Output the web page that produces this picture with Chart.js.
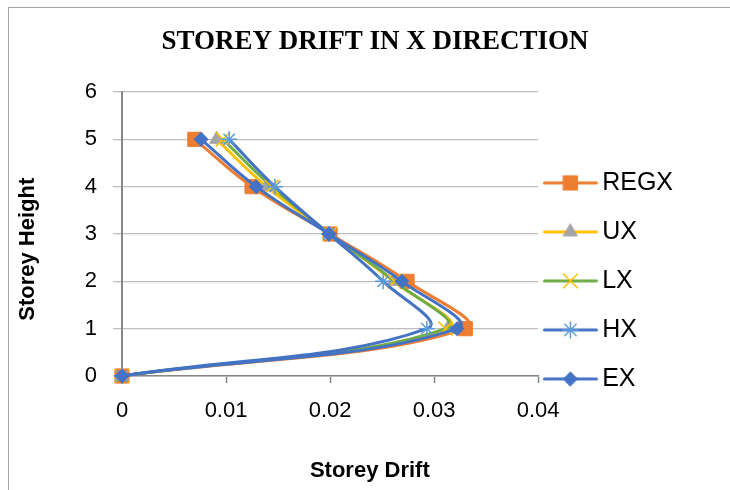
<!DOCTYPE html>
<html>
<head>
<meta charset="utf-8">
<script src="https://cdn.jsdelivr.net/npm/chart.js@4.4.1/dist/chart.umd.min.js"></script>
<style>
  html, body { margin: 0; padding: 0; background: #fff; overflow: hidden; }
  #clip { position: absolute; left: 0; top: 0; width: 730px; height: 490px; overflow: hidden; }
  #frame { position: absolute; left: 8px; top: 7px; width: 721px; height: 482px; overflow: hidden; border-left: 1px solid #a6a6a6; border-top: 1px solid #a6a6a6; }
  #chart { position: absolute; left: 0; top: 0; }
</style>
</head>
<body>
<div id="clip"><div id="frame"><canvas id="chart" width="732" height="500"></canvas></div></div>
<script>
// Daten
const storeyHeight = [0, 1, 2, 3, 4, 5];
const regx = [0, 0.0330, 0.0274, 0.0200, 0.0125, 0.0070];
const ux   = [0, 0.0313, 0.0261, 0.0200, 0.0139, 0.0091];
const lx   = [0, 0.0311, 0.0262, 0.0200, 0.0144, 0.0097];
const hx   = [0, 0.0293, 0.0251, 0.0199, 0.0147, 0.0103];
const ex   = [0, 0.0322, 0.0269, 0.0199, 0.0129, 0.0076];
const seriesNames = ['REGX', 'UX', 'LX', 'HX', 'EX'];
const xTickLabels = ['0', '0.01', '0.02', '0.03', '0.04'];
const yTickLabels = ['0', '1', '2', '3', '4', '5', '6'];

// Styles pro Serie (Excel-Farben)
const seriesStyle = {
  REGX: { line: '#ED7D31', marker: 'rect',     fill: '#ED7D31', edge: '#ED7D31', r: 10, bw: 1 },
  UX:   { line: '#FFC000', marker: 'triangle', fill: '#A5A5A5', edge: '#A5A5A5', r: 8,  bw: 1 },
  LX:   { line: '#70AD47', marker: 'crossRot', fill: '#FFC000', edge: '#FFC000', r: 10, bw: 1.5 },
  HX:   { line: '#4472C4', marker: 'star',     fill: '#5B9BD5', edge: '#5B9BD5', r: 8,  bw: 1.5 },
  EX:   { line: '#4472C4', marker: 'rectRot',  fill: '#4472C4', edge: '#4472C4', r: 7,  bw: 1 }
};
const seriesValues = [regx, ux, lx, hx, ex];

const PAD_SIDE = 58;

// kleines Bildchen fuer die Legende: Linie + Marker
function legendIcon(st) {
  const c = document.createElement('canvas');
  c.width = 55; c.height = 22;
  const g = c.getContext('2d');
  g.strokeStyle = st.line;
  g.lineWidth = 3;
  g.lineCap = 'round';
  g.beginPath();
  g.moveTo(1.5, 11);
  g.lineTo(53.5, 11);
  g.stroke();
  g.fillStyle = st.fill;
  g.strokeStyle = st.edge;
  g.lineWidth = st.bw;
  Chart.helpers.drawPoint(g, { pointStyle: st.marker, radius: st.r, borderWidth: st.bw, rotation: 0 }, 27.5, 11);
  return c;
}

const datasets = seriesNames.map((name, i) => {
  const st = seriesStyle[name];
  return {
    label: name,
    data: storeyHeight.map((h, k) => ({ x: seriesValues[i][k], y: h })),
    showLine: true,
    tension: 0.4,
    borderColor: st.line,
    borderWidth: 3,
    pointStyle: st.marker,
    pointRadius: st.r,
    pointHoverRadius: st.r,
    pointBackgroundColor: st.fill,
    pointBorderColor: st.edge,
    pointBorderWidth: st.bw,
    clip: false,
    order: seriesNames.length - i   // EX oben
  };
});

const icons = seriesNames.map(n => legendIcon(seriesStyle[n]));

new Chart(document.querySelector('#chart'), {
  type: 'scatter',
  data: { datasets },
  options: {
    responsive: false,
    animation: false,
    events: [],
    layout: { padding: { left: PAD_SIDE, right: PAD_SIDE, top: 0, bottom: 0 } },
    plugins: {
      title: {
        display: true,
        text: 'STOREY DRIFT IN X DIRECTION',
        color: '#000',
        font: { family: '"Liberation Serif", "Times New Roman", serif', size: 27, weight: 'bold' },
        padding: { top: 18, bottom: 33.6 }
      },
      legend: {
        position: 'right',
        align: 'start',
        title: { display: true, text: '', font: { size: 12 }, padding: { top: 135, bottom: 0 } },
        labels: {
          usePointStyle: true,
          pointStyleWidth: 38.5,
          padding: 13,
          color: '#000',
          font: { family: '"Liberation Sans Narrow", "Liberation Sans", sans-serif', size: 25, lineHeight: '36px' },
          generateLabels: chart => chart.data.datasets.map((ds, i) => ({
            text: [ds.label],
            pointStyle: icons[i],
            datasetIndex: i,
            fillStyle: ds.borderColor,
            strokeStyle: ds.borderColor,
            lineWidth: 0,
            hidden: false,
            fontColor: '#000'
          }))
        }
      },
      tooltip: { enabled: false }
    },
    scales: {
      x: {
        type: 'linear',
        min: 0,
        max: 0.04,
        afterFit: s => { s.height = 132; },
        ticks: {
          stepSize: 0.01,
          padding: 15,
          color: '#000',
          font: { family: '"Liberation Sans", Arial, sans-serif', size: 22 },
          callback: (v, i) => xTickLabels[i]
        },
        grid: { drawOnChartArea: false, drawTicks: true, tickLength: 7, tickColor: '#868686', tickWidth: 1.5 },
        border: { color: '#868686', width: 1.5 },
        title: {
          display: true,
          text: '             Storey Drift',
          color: '#000',
          font: { family: '"Liberation Sans", Arial, sans-serif', size: 22, weight: 'bold' },
          padding: { top: 0, bottom: 24 }
        }
      },
      y: {
        min: 0,
        max: 6,
        afterFit: s => { s.width = 113 - PAD_SIDE; },
        ticks: {
          stepSize: 1,
          padding: 16,
          color: '#000',
          font: { family: '"Liberation Sans", Arial, sans-serif', size: 22 },
          callback: (v, i) => yTickLabels[i]
        },
        grid: { color: '#bfbfbf', lineWidth: 1.3, drawTicks: true, tickLength: 9, tickColor: '#bfbfbf' },
        border: { color: '#868686', width: 2 },
        title: {
          display: true,
          text: 'Storey Height     ',
          color: '#000',
          font: { family: '"Liberation Sans", Arial, sans-serif', size: 22, weight: 'bold' },
          padding: { top: -52, bottom: 0 }
        }
      }
    }
  }
});
</script>
</body>
</html>
